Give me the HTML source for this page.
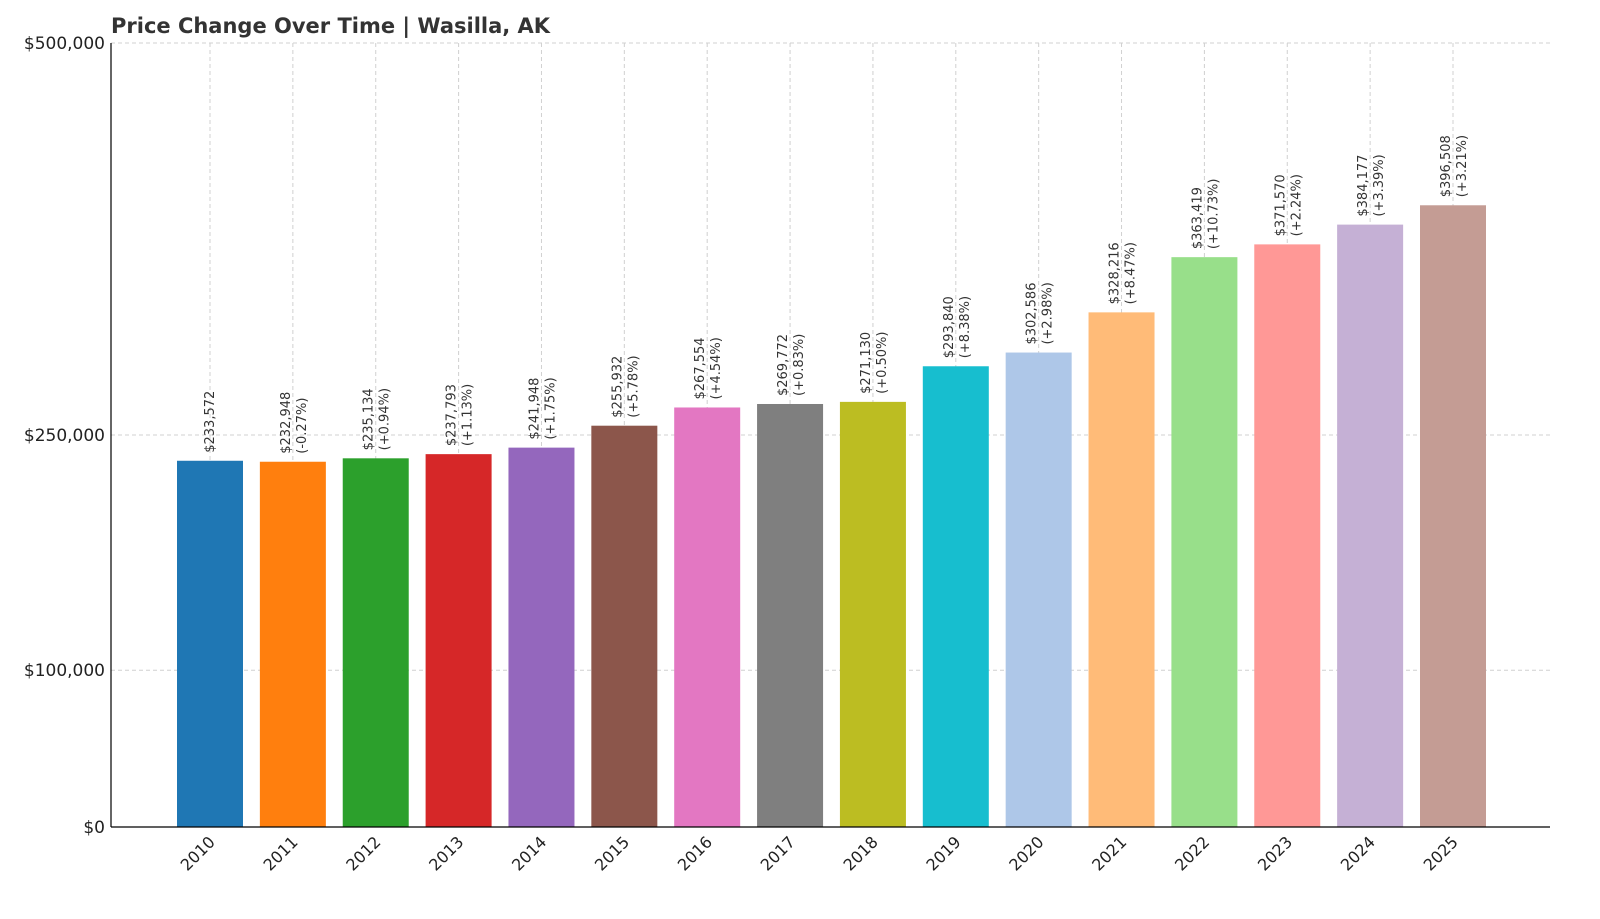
<!DOCTYPE html>
<html><head><meta charset="utf-8">
<style>
body{margin:0;background:#fff;font-family:"Liberation Sans","DejaVu Sans",sans-serif;}
svg text{font-family:"DejaVu Sans","Liberation Sans",sans-serif;}
</style></head>
<body>
<svg id="chart" width="1600" height="914" xmlns="http://www.w3.org/2000/svg">
<text x="111" y="33" font-size="21" font-weight="bold" fill="#333">Price Change Over Time | Wasilla, AK</text>
<g id="grid"></g><g id="bars"></g><g id="labels"></g><g id="axes"></g>
</svg>
<script>
const years=["2010","2011","2012","2013","2014","2015","2016","2017","2018","2019","2020","2021","2022","2023","2024","2025"];
const values=[233572,232948,235134,237793,241948,255932,267554,269772,271130,293840,302586,328216,363419,371570,384177,396508];
const changes=["","-0.27%","+0.94%","+1.13%","+1.75%","+5.78%","+4.54%","+0.83%","+0.50%","+8.38%","+2.98%","+8.47%","+10.73%","+2.24%","+3.39%","+3.21%"];
const yTicks=[0,100000,250000,500000];
const yTickLabels=["$0","$100,000","$250,000","$500,000"];
const colors=["#1f77b4","#ff7f0e","#2ca02c","#d62728","#9467bd","#8c564b","#e377c2","#7f7f7f","#bcbd22","#17becf","#aec7e8","#ffbb78","#98df8a","#ff9896","#c5b0d5","#c49c94"];
const NS="http://www.w3.org/2000/svg";
const x0=210,step=(1453-210)/15,bw=66;
const X=i=>x0+i*step;
const Y=v=>827-v/500000*784;
function mk(tag,attrs,parent){const e=document.createElementNS(NS,tag);for(const k in attrs)e.setAttribute(k,attrs[k]);document.getElementById(parent).appendChild(e);return e;}
yTicks.forEach((t,i)=>{
  const l=mk('line',{x1:111,x2:1550,y1:Y(t),y2:Y(t),stroke:'#d0d0d0','stroke-dasharray':'4,3'},'grid');
  
  
  const tx=mk('text',{x:105,y:Y(t)+6,'font-size':17,'text-anchor':'end',fill:'#222'},'axes');
  tx.textContent=yTickLabels[i];
  
  
});
years.forEach((yr,i)=>{
  const cx=X(i);
  const g=mk('line',{x1:cx,x2:cx,y1:43,y2:827,stroke:'#d0d0d0','stroke-dasharray':'4,3'},'grid');
  
  
  const r=mk('rect',{x:cx-bw/2,y:Y(values[i]),width:bw,height:827-Y(values[i]),fill:colors[i]},'bars');
  
  
  const top=Y(values[i])-8;
  const v='$'+values[i].toLocaleString('en-US');
  if(changes[i]===''){
    const t=mk('text',{x:cx+4,y:top,'font-size':13,fill:'#333',transform:`rotate(-90 ${cx+4} ${top})`},'labels');
    t.textContent=v;
    
    
  }else{
    const t=mk('text',{x:cx-3,y:top,'font-size':13,fill:'#333',transform:`rotate(-90 ${cx-3} ${top})`},'labels');
    t.textContent=v;
    
    
    const p=mk('text',{x:cx+13,y:top,'font-size':13,fill:'#333',transform:`rotate(-90 ${cx+13} ${top})`},'labels');
    p.textContent='('+changes[i]+')';
    
    
  }
  const tx=cx+6,ty=843;
  const xl=mk('text',{x:tx,y:ty,'font-size':16,'text-anchor':'end',fill:'#222',transform:`rotate(-45 ${tx} ${ty})`},'axes');
  xl.textContent=yr;
  
  
});
const ax=mk('line',{x1:111,x2:111,y1:43,y2:827,stroke:'#000','stroke-width':1.2},'axes');


const bx=mk('line',{x1:111,x2:1550,y1:827,y2:827,stroke:'#000','stroke-width':1.2},'axes');


</script>
</body></html>
